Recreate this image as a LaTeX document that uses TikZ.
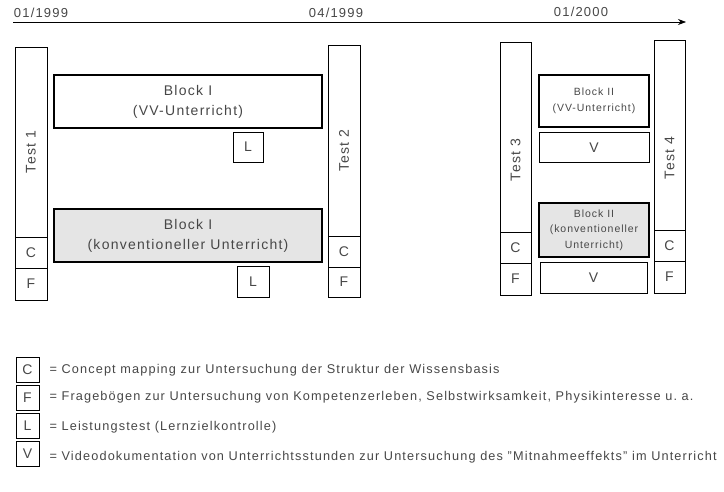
\documentclass[tikz,border=0pt]{standalone}
\usepackage{fontspec}
\setmainfont{Liberation Sans}[LetterSpace=9]
\frenchspacing
\usetikzlibrary{positioning,arrows.meta}
\definecolor{inkgray}{gray}{0.28}
\definecolor{convgray}{gray}{0.90}
\tikzset {
  box style/.style = {
    draw=black,
    line width=0.7pt,
    inner sep=0pt,
    outer sep=0pt,
    text=inkgray,
    font=\fontsize{14}{14}\selectfont
  },
  test style/.style = {box style, anchor=north, minimum width=#1},
  cell style/.style = {box style, minimum width=#1},
  block style/.style = {
    draw=black,
    line width=2.2pt,
    inner sep=0pt,
    align=center,
    text=inkgray
  },
  big block/.style = {block style, font=\fontsize{14}{20}\selectfont},
  small block/.style = {block style, font=\fontsize{10.5}{15.5}\selectfont},
  key style/.style = {box style, minimum width=23pt, minimum height=25pt},
  key text/.style = {text=inkgray, font=\fontsize{12.7}{12.7}\selectfont, anchor=west},
  date style/.style = {text=inkgray, font=\fontsize{13}{13}\selectfont, inner sep=0pt}
}

\begin{document}
\begin{tikzpicture}[x=1pt, y=-1pt]
\useasboundingbox (0,0) rectangle (724,492);

% --- Timeline ---
\coordinate (T0) at ( 13,22);
\coordinate (T1) at (686,22);
\draw[-{Stealth[length=8pt,width=6pt]}, line width=0.7pt] (T0) -- (T1);
\node[date style] (d1) at ( 41,13) {01/1999};
\node[date style] (d2) at (336,13) {04/1999};
\node[date style] (d3) at (581,12) {01/2000};

% --- Test columns ---
\node[test style=32pt, minimum height=190pt] (t1) at ( 31,47) {\rotatebox{90}{Test 1\hspace{20pt}}};
\node[cell style=32pt, minimum height=31pt, below=0pt of t1] (c1) {C};
\node[cell style=32pt, minimum height=32pt, below=0pt of c1] (f1) {F};

\node[test style=32pt, minimum height=191pt] (t2) at (344,45) {\rotatebox{90}{Test 2\hspace{20pt}}};
\node[cell style=32pt, minimum height=31pt, below=0pt of t2] (c2) {C};
\node[cell style=32pt, minimum height=30pt, below=0pt of c2] (f2) {F};

\node[test style=31pt, minimum height=190pt] (t3) at (515.5,42) {\rotatebox{90}{Test 3\hspace{46pt}}};
\node[cell style=31pt, minimum height=31pt, below=0pt of t3] (c3) {C};
\node[cell style=31pt, minimum height=32pt, below=0pt of c3] (f3) {F};

\node[test style=31pt, minimum height=190pt] (t4) at (669.5,40) {\rotatebox{90}{Test 4\hspace{46pt}}};
\node[cell style=31pt, minimum height=31pt, below=0pt of t4] (c4) {C};
\node[cell style=31pt, minimum height=32pt, below=0pt of c4] (f4) {F};

% --- Block I ---
\node[big block, minimum width=268pt, minimum height=53pt] (b1vv) at (188,101.5)
  {Block I\\(VV-Unterricht)};
\node[cell style=30pt, minimum height=30pt] (l1) at (248,147) {L};
\node[big block, fill=convgray, minimum width=268pt, minimum height=53pt] (b1kv) at (188,235.5)
  {Block I\\(konventioneller Unterricht)};
\node[cell style=32pt, minimum height=31pt] (l2) at (253,281.5) {L};

% --- Block II ---
\node[small block, minimum width=110pt, minimum height=52pt] (b2vv) at (594,101)
  {Block II\\(VV-Unterricht)};
\node[cell style=110pt, minimum height=30pt] (v1) at (594,147.5) {V};
\node[small block, fill=convgray, minimum width=110pt, minimum height=54pt] (b2kv) at (594,230)
  {Block II\\(konventioneller\\Unterricht)};
\node[cell style=107pt, minimum height=31pt] (v2) at (593.5,277.5) {V};

% --- Legend ---
\node[key style] (kc) at (27.5,370) {C};
\node[key style] (kf) at (27.5,397.5) {F};
\node[key style] (kl) at (27.5,425.5) {L};
\node[key style] (kv) at (27.5,454) {V};
\node[key text, right=7pt of kc] (kct)
  {= Concept mapping zur Untersuchung der Struktur der Wissensbasis};
\node[key text, right=7pt of kf] (kft)
  {= Fragebögen zur Untersuchung von Kompetenzerleben, Selbstwirksamkeit, Physikinteresse u. a.};
\node[key text, right=7pt of kl, yshift=-2pt] (klt)
  {= Leistungstest (Lernzielkontrolle)};
\node[key text, right=7pt of kv, yshift=-3pt] (kvt)
  {= Videodokumentation von Unterrichtsstunden zur Untersuchung des "Mitnahmeeffekts" im Unterricht};

\end{tikzpicture}
\end{document}
